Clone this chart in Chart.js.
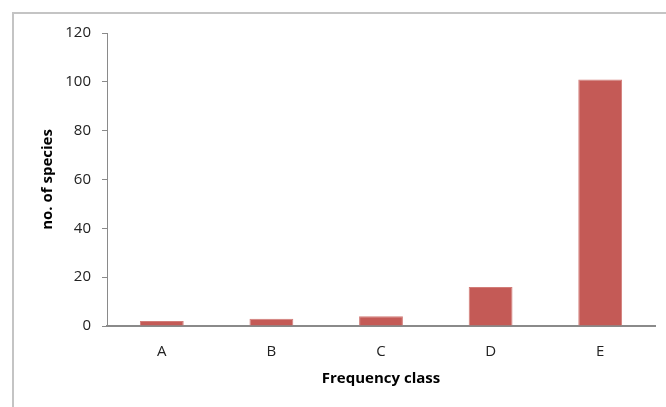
<!DOCTYPE html>
<html>
<head>
<meta charset="utf-8">
<script src="https://cdn.jsdelivr.net/npm/chart.js@4/dist/chart.umd.min.js"></script>
<style>
  html, body { margin: 0; padding: 0; background: #fff; }
  #wrap { position: relative; width: 666px; height: 407px; overflow: hidden; }
  #frame { position: absolute; left: 12px; top: 12px; right: -10px; bottom: -10px;
           border-left: 2px solid #c4c4c4; border-top: 2px solid #c4c4c4; }
  canvas { position: absolute; left: 0; top: 0; }
</style>
</head>
<body>
<div id="wrap">
  <div id="frame"></div>
  <canvas id="chart" width="666" height="407"></canvas>
</div>
<script>
// Number of species in each frequency class
const categories = ['A', 'B', 'C', 'D', 'E'];
const speciesCounts = [2, 3, 4, 16, 101];
const yTickMax = 120;
const yTickStep = 20;
const xTitle = 'Frequency class';
const yTitle = 'no. of species';

const FONT = "'Open Sans', 'Liberation Sans', sans-serif";
const AXIS_COLOR = '#8a8a8a';

new Chart(document.getElementById('chart'), {
  type: 'bar',
  data: {
    labels: categories,
    datasets: [{
      data: speciesCounts,
      backgroundColor: '#C45A56',
      borderColor: '#d27c78',
      borderWidth: 1,
      borderSkipped: 'bottom',
      categoryPercentage: 1,
      barPercentage: 0.4
    }]
  },
  options: {
    responsive: false,
    animation: false,
    layout: { padding: { top: 33, right: 11, bottom: 0, left: 0 } },
    plugins: { legend: { display: false }, tooltip: { enabled: false } },
    scales: {
      x: {
        grid: { display: false, drawTicks: false },
        border: { display: true, color: AXIS_COLOR, width: 2 },
        ticks: { color: '#222', padding: 17, font: { family: FONT, size: 15 } },
        title: {
          display: true, text: xTitle, color: '#000',
          font: { family: FONT, size: 15, weight: 'bold' },
          padding: { top: 0, bottom: 19 }
        },
        afterFit(scale) { scale.height = 81; }
      },
      y: {
        min: 0, max: yTickMax,
        grid: { display: true, drawOnChartArea: false, drawTicks: true, tickLength: 5, color: AXIS_COLOR },
        border: { display: true, color: AXIS_COLOR, width: 1 },
        ticks: { stepSize: yTickStep, color: '#222', padding: 11, font: { family: FONT, size: 15 } },
        title: {
          display: true, text: yTitle, color: '#000',
          font: { family: FONT, size: 15, weight: 'bold' },
          padding: { top: 39, bottom: 0 }
        },
        afterFit(scale) { scale.width = 107; }
      }
    }
  }
});
</script>
</body>
</html>
